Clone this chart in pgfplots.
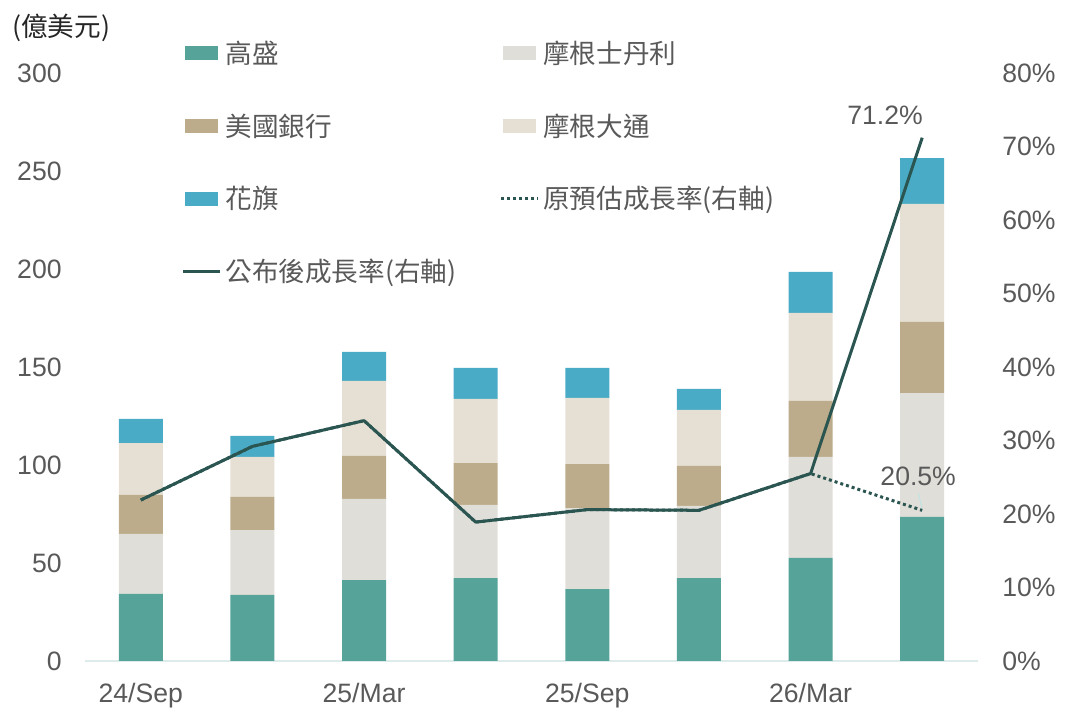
\documentclass[border=0pt]{standalone}
\usepackage{pgfplots}
\pgfplotsset{compat=1.18}
\usepackage{pgfplotstable}
\usepackage{fontspec}
\setmainfont{Liberation Sans}
\newfontfamily\cjk{Noto Sans CJK TC}
\definecolor{gs}{HTML}{56A39A}
\definecolor{ms}{HTML}{E0DED8}
\definecolor{boa}{HTML}{BDAC8B}
\definecolor{jpm}{HTML}{E6E0D4}
\definecolor{citi}{HTML}{4AABC6}
\definecolor{ln}{HTML}{2A5550}
\definecolor{tk}{HTML}{595959}
\definecolor{baseln}{HTML}{DDEBEB}
\definecolor{leader}{HTML}{BFE4E4}

\pgfplotstableread{
x GS MS BoA JPM Citi
0 34.2 30.6 19.9 26.5 12.3
1 33.7 33.1 16.9 20.4 10.7
2 41.3 41.4 21.9 38.3 14.8
3 42.3 37.3 21.4 32.7 15.8
4 36.7 41.2 22.6 33.7 15.3
5 42.3 36.8 20.4 28.6 10.7
6 52.6 51.5 28.6 44.9 20.9
7 73.5 63.2 36.3 60.2 23.4
}\bars

\pgfplotstableread{
x est pub
0 21.9 21.9
1 29.2 29.2
2 32.7 32.7
3 18.9 18.9
4 20.6 20.6
5 20.5 20.5
6 25.5 25.5
7 20.5 71.2
}\growth

\newcommand\fnt{\fontsize{13.3bp}{16bp}\selectfont}

\pgfplotsset{
  barleg/.style={legend image code/.code={\fill[##1] (0bp,-3.5bp) rectangle (16.5bp,3.5bp);}},
  lineleg/.style={legend image code/.code={\draw[##1] (-1bp,0bp) -- (17.2bp,0bp);}},
}

\begin{document}
\begin{tikzpicture}
\useasboundingbox (0,0) rectangle (538.5bp,359bp);
\begin{axis}[
  at={(42.5bp,28.5bp)}, anchor=south west,
  scale only axis, width=446.5bp, height=294bp,
  xmin=-0.5, xmax=7.5, ymin=0, ymax=300,
  ybar stacked, bar width=22bp,
  axis line style={draw=none},
  tick style={draw=none},
  xtick={0,2,4,6}, xticklabels={24/Sep,25/Mar,25/Sep,26/Mar},
  ytick={0,50,100,150,200,250,300},
  yticklabels={0,50,100,150,200,250,300},
  /pgf/number format/assume math mode=true,
  ticklabel style={font=\fnt, text=tk, inner sep=0pt},
  xticklabel style={anchor=north, yshift=-11bp},
  yticklabel style={anchor=east, xshift=-11.5bp},
  extra y ticks={0}, extra y tick labels={},
  extra y tick style={grid=major, major grid style={draw=baseln, line width=0.75bp}},
  clip=false,
]
\addplot[fill=gs, draw=none] table[x=x,y=GS]{\bars};
\addplot[fill=ms, draw=none] table[x=x,y=MS]{\bars};
\addplot[fill=boa, draw=none] table[x=x,y=BoA]{\bars};
\addplot[fill=jpm, draw=none] table[x=x,y=JPM]{\bars};
\addplot[fill=citi, draw=none] table[x=x,y=Citi]{\bars};
\end{axis}
\begin{axis}[
  at={(42.5bp,28.5bp)}, anchor=south west,
  scale only axis, width=446.5bp, height=294bp,
  xmin=-0.5, xmax=7.5, ymin=0, ymax=80,
  axis y line*=right, axis x line=none,
  y axis line style={draw=none},
  tick style={draw=none},
  ytick={0,10,20,30,40,50,60,70,80},
  yticklabels={0\%,10\%,20\%,30\%,40\%,50\%,60\%,70\%,80\%},
  yticklabel style={font=\fnt, text=tk, inner sep=0pt, anchor=west, xshift=12bp},
  legend columns=2,
  legend cell align=left,
  legend style={at={(0.1086,1.0558)}, anchor=north west, draw=none, fill=none,
    inner sep=0pt, outer sep=0pt, row sep=23.4bp, column sep=0pt, font=\fnt, text=tk,
    nodes={inner sep=0pt, text height=11.5bp, text depth=1.5bp}},
  clip=false,
]
\addlegendimage{barleg, fill=gs, draw=none}
\addlegendentry{\makebox[139.2bp][l]{\hspace{2.05bp}\cjk 高盛}}
\addlegendimage{barleg, fill=ms, draw=none}
\addlegendentry{\makebox[139.2bp][l]{\hspace{2.05bp}\cjk 摩根士丹利}}
\addlegendimage{barleg, fill=boa, draw=none}
\addlegendentry{\makebox[139.2bp][l]{\hspace{2.05bp}\cjk 美國銀行}}
\addlegendimage{barleg, fill=jpm, draw=none}
\addlegendentry{\makebox[139.2bp][l]{\hspace{2.05bp}\cjk 摩根大通}}
\addlegendimage{barleg, fill=citi, draw=none}
\addlegendentry{\makebox[139.2bp][l]{\hspace{2.05bp}\cjk 花旗}}
\addplot[lineleg, draw=ln, line width=1.5bp, dash pattern=on 1.5bp off 1.5bp, mark=none] table[x=x,y=est]{\growth};
\addlegendentry{\makebox[139.2bp][l]{\hspace{2.05bp}\cjk 原預估成長率(右軸)}}
\addplot[lineleg, draw=ln, line width=1.5bp, line join=round, mark=none] table[x=x,y=pub]{\growth};
\addlegendentry{\makebox[139.2bp][l]{\hspace{2.05bp}\cjk 公布後成長率(右軸)}}
\node[anchor=base east, font=\fnt, text=tk, inner sep=0pt] at ([shift={(0.5bp,6.7bp)}]axis cs:7,71.2) {71.2\%};
\node[anchor=base, font=\fnt, text=tk, inner sep=0pt] at ([shift={(-2bp,12.6bp)}]axis cs:7,20.5) {20.5\%};
\draw[leader, line width=0.5bp] ([shift={(-2bp,8.5bp)}]axis cs:7,20.5) -- ([shift={(0bp,1bp)}]axis cs:7,20.5);
\end{axis}
\node[anchor=west, inner sep=0pt, font=\fnt\cjk, text=black!85] at (6bp,345.25bp) {(億美元)};
\end{tikzpicture}
\end{document}
